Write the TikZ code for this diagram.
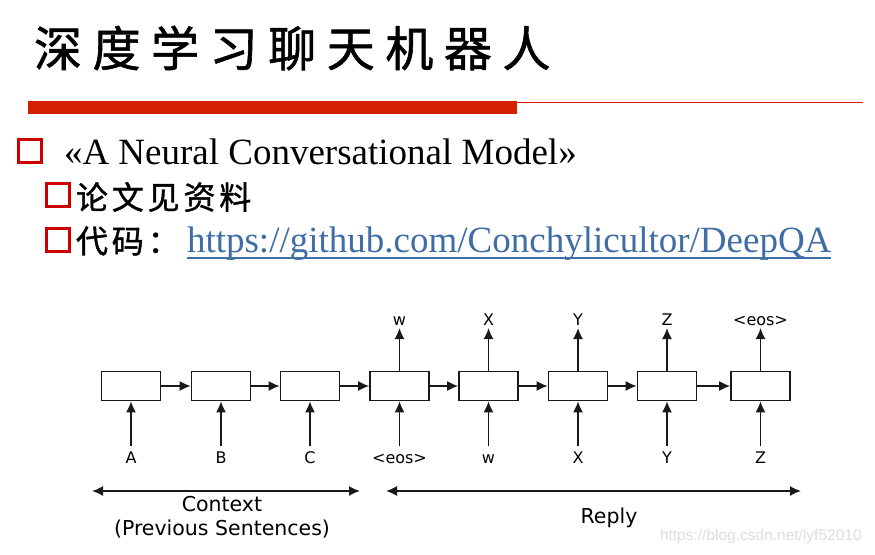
\documentclass[tikz,border=0pt]{standalone}
\usepackage{fontspec}
\setmainfont{Liberation Serif}
\newfontfamily\cjk{Noto Sans CJK SC}
\newfontfamily\cjkTitle[LetterSpace=22, FakeBold=1.2]{Noto Sans CJK SC}
\newfontfamily\cjkSub[LetterSpace=12, FakeBold=1.2]{Noto Sans CJK SC}
\newfontfamily\dv{DejaVu Sans}
\newfontfamily\lsans{Liberation Sans}
\usetikzlibrary{arrows.meta}
\definecolor{barred}{RGB}{212,32,0}
\definecolor{sqred}{RGB}{204,0,0}
\definecolor{linkblue}{RGB}{62,110,165}
\definecolor{ink}{RGB}{25,25,25}
\tikzset{
  txt/.style={inner sep=0pt, outer sep=0pt},
  sq/.style={draw=sqred, line width=3pt, minimum width=23pt, minimum height=23pt, inner sep=0pt},
  cell/.style={draw=ink, line width=1.6pt, minimum width=59pt, minimum height=29pt, inner sep=0pt},
  lab/.style={txt, font=\dv\fontsize{16}{16}\selectfont, text height=11.7pt, text depth=0pt},
  big/.style={txt, font=\dv\fontsize{20.5}{24}\selectfont, align=center},
  arr/.style={draw=ink, line width=1.6pt, -{Latex[length=11pt,width=10pt]}},
  darr/.style={draw=ink, line width=1.6pt, {Latex[length=11pt,width=10pt]}-{Latex[length=11pt,width=10pt]}}
}
\begin{document}
\begin{tikzpicture}[x=1pt,y=-1pt]
\useasboundingbox (0,0) rectangle (875,554);
\fill[white] (0,0) rectangle (875,554);

% title
\node[txt, anchor=west, font=\cjkTitle\fontsize{48}{48}\selectfont] (title) at (34,48) {深度学习聊天机器人};
\fill[barred] (28,101) rectangle (517,114);
\draw[barred, line width=1.5pt] (517,102.5) -- (863,102.5);

% bullets
\node[sq] (s1) at (30,151) {};
\node[txt, anchor=base west, font=\fontsize{37}{40}\selectfont] (l1) at (64,164) {«A Neural Conversational Model»};
\node[sq] (s2) at (58,195) {};
\node[txt, anchor=west, font=\cjkSub\fontsize{32}{32}\selectfont] (l2) at (76,197) {论文见资料};
\node[sq] (s3) at (58,239.5) {};
\node[txt, anchor=west, font=\cjkSub\fontsize{32}{32}\selectfont] (l3) at (76,241) {代码：};
\node[txt, anchor=base west, text=linkblue, font=\fontsize{37}{40}\selectfont] (link) at (187,252) {https://github.com/Conchylicultor/DeepQA};
\draw[linkblue, line width=2.4pt] ([yshift=-6pt]link.base west) -- ([yshift=-6pt]link.base east);

% cells
\foreach \i/\x in {1/131,2/221,3/310,4/399.5,5/488.5,6/578,7/667,8/760.5}{
  \node[cell] (b\i) at (\x,386) {};
}
\foreach \a/\b in {1/2,2/3,3/4,4/5,5/6,6/7,7/8}{
  \draw[arr] (b\a) -- (b\b);
}
% inputs
\foreach \i/\t in {1/A,2/B,3/C,4/{<eos>},5/w,6/X,7/Y,8/Z}{
  \node[lab, anchor=south] (in\i) at (b\i.south |- 0,463) {\t};
  \draw[arr, shorten <=5pt] (in\i) -- (b\i);
}
% outputs
\foreach \i/\t in {4/w,5/X,6/Y,7/Z,8/{<eos>}}{
  \node[lab, anchor=south] (out\i) at (b\i.north |- 0,325) {\t};
  \draw[arr, shorten >=3pt] (b\i) -- (out\i);
}

% spans
\coordinate (c1) at (92,491);
\coordinate (c2) at (360,491);
\coordinate (r1) at (386,491);
\coordinate (r2) at (801,491);
\draw[darr] (c1) -- (c2);
\draw[darr] (r1) -- (r2);
\node[big] (ctx) at (222,517) {Context\\(Previous Sentences)};
\node[big] (reply) at (609,518) {Reply};

% watermark
\node[txt, anchor=west, text=black!13, font=\lsans\fontsize{15.5}{16}\selectfont] (wm) at (660,536) {https://blog.csdn.net/lyf52010};
\end{tikzpicture}
\end{document}
